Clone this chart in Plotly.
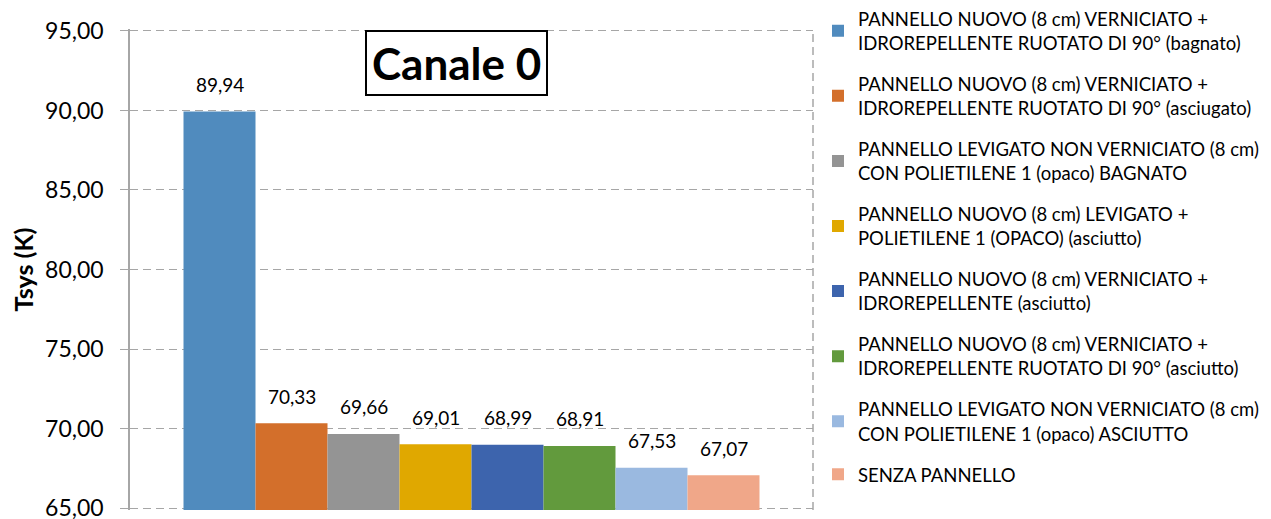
import plotly.graph_objects as go

series_names = [
    "PANNELLO NUOVO (8 cm) VERNICIATO +<br>IDROREPELLENTE RUOTATO DI 90° (bagnato)",
    "PANNELLO NUOVO (8 cm) VERNICIATO +<br>IDROREPELLENTE RUOTATO DI 90° (asciugato)",
    "PANNELLO LEVIGATO NON VERNICIATO (8 cm)<br>CON POLIETILENE 1 (opaco) BAGNATO",
    "PANNELLO NUOVO (8 cm) LEVIGATO +<br>POLIETILENE 1 (OPACO) (asciutto)",
    "PANNELLO NUOVO (8 cm) VERNICIATO +<br>IDROREPELLENTE (asciutto)",
    "PANNELLO NUOVO (8 cm) VERNICIATO +<br>IDROREPELLENTE RUOTATO DI 90° (asciutto)",
    "PANNELLO LEVIGATO NON VERNICIATO (8 cm)<br>CON POLIETILENE 1 (opaco) ASCIUTTO",
    "SENZA PANNELLO",
]
tsys_values = [89.94, 70.33, 69.66, 69.01, 68.99, 68.91, 67.53, 67.07]
chart_title = "Canale 0"
colors = ["#508BBE", "#D36F2B", "#949494", "#E0A800", "#3D64AD", "#629A3D", "#9AB9E0", "#F0A789"]

FONT = "Lato"

fig = go.Figure()
annotations = []
for i, (name, val) in enumerate(zip(series_names, tsys_values)):
    fig.add_trace(go.Bar(
        x=[i], y=[val], name=name, width=1,
        marker=dict(color=colors[i], line=dict(width=0)),
        legendgroup=f"g{i}",
        hovertemplate="%{y:.2f}<extra></extra>",
    ))
    annotations.append(dict(
        x=i, y=val, xref="x", yref="y",
        text=f"{val:.2f}".replace(".", ","),
        showarrow=False, yanchor="middle", yshift=27,
        font=dict(size=19, family=FONT, color="#000000"),
    ))

annotations.append(dict(
    text=f"<b>{chart_title}</b>", xref="paper", yref="paper",
    x=(456 - 130) / 683, y=1 - (63.5 - 29) / 481, xanchor="center", yanchor="middle",
    showarrow=False, font=dict(size=44, family=FONT, color="#000000"),
    bordercolor="#000000", borderwidth=2, borderpad=5, bgcolor="white",
))

n = len(tsys_values)
half_span = 683 / 72 / 2
center = (n - 1) / 2

# the page body has an 8px default margin, so the figure is sized to fit the window
fig.update_layout(
    width=1263, height=511,
    margin=dict(l=122, r=458, t=21, b=9, autoexpand=False),
    paper_bgcolor="white", plot_bgcolor="white",
    barmode="overlay",
    separators=",.",
    font=dict(family=FONT, color="#000000"),
    showlegend=True,
    legend=dict(
        x=(818 - 130) / 683, xanchor="left", y=1.06, yanchor="top",
        font=dict(size=18.5, family=FONT, color="#000000"),
        tracegroupgap=14, itemwidth=30, maxheight=1000,
        bgcolor="rgba(0,0,0,0)",
    ),
    xaxis=dict(range=[center - half_span, center + half_span],
               showticklabels=False, showgrid=False, showline=False, zeroline=False, ticks=""),
    yaxis=dict(
        range=[64.88, 95.12], tick0=0, dtick=5, tickformat=".2f",
        tickfont=dict(size=23, family=FONT, color="#000000"),
        showgrid=True, gridcolor="#A6A6A6", griddash="8px,5px", gridwidth=1.3,
        showline=True, linecolor="#A6A6A6", linewidth=1.5,
        ticks="outside", ticklen=8, tickcolor="#A6A6A6", tickwidth=1.3,
        ticklabelstandoff=12, ticklabeloverflow="allow",
        zeroline=False,
        title=dict(text="<b>Tsys (K)</b>", font=dict(size=25, family=FONT), standoff=4),
    ),
    shapes=[dict(type="line", xref="paper", yref="paper", x0=1, x1=1, y0=0, y1=1,
                 line=dict(color="#A6A6A6", width=1.5, dash="8px,5px"))],
    annotations=annotations,
)

fig.write_html("out.html")
